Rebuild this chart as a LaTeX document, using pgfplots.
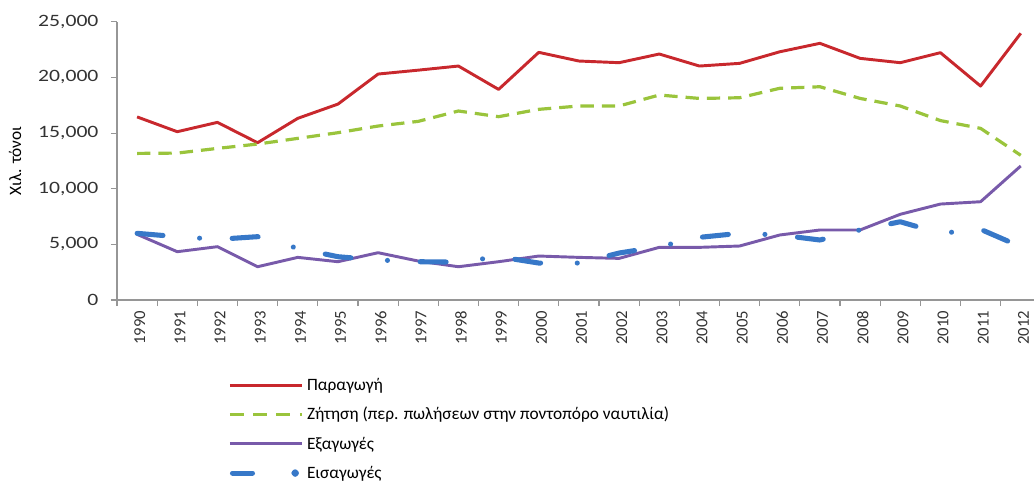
\documentclass[border=0pt]{standalone}
\usepackage{pgfplots}
\pgfplotsset{compat=1.18}
\usepackage{fontspec}
\setmainfont{Carlito}
\definecolor{cred}{RGB}{200,40,45}
\definecolor{cgreen}{RGB}{154,196,60}
\definecolor{cpurple}{RGB}{120,90,170}
\definecolor{cblue}{RGB}{55,120,200}
\definecolor{caxis}{RGB}{150,150,150}
\pgfplotsset{
  lineleg/.style={legend image code/.code={\draw[##1] (0pt,0pt) -- (54pt,0pt);}},
  dashleg/.style={legend image code/.code={\draw[##1, dash pattern=on 10.5pt off 7pt] (0pt,0pt) -- (54pt,0pt);}},
  blueleg/.style={legend image code/.code={\draw[##1, solid] (2pt,0pt) -- (17pt,0pt); \fill[cblue] (49pt,0pt) circle (0.95pt); \path (54pt,0pt);}},
}
\begin{document}
\begin{tikzpicture}
\begin{axis}[
  scale only axis, width=687.75pt, height=208.7pt,
  at={(87.75pt,142.5pt)}, anchor=south west,
  xmin=-0.5, xmax=22.33, ymin=0, ymax=25000,
  axis x line=bottom, axis y line=left,
  axis line style={-, draw=caxis, line width=0.9pt},
  every tick/.style={draw=caxis, line width=0.8pt},
  tick align=outside,
  ytick={0,5000,10000,15000,20000,25000},
  scaled y ticks=false,
  /pgf/number format/assume math mode=true,
  /pgf/number format/fixed,
  /pgf/number format/1000 sep={,},
  yticklabel style={font=\fontsize{13}{15}\selectfont, xscale=1.25, xshift=-4pt, text=black!80},
  major tick length=4.5pt,
  xtick={0,...,22},
  xticklabel={\pgfmathtruncatemacro\yr{1990+\tick}\yr},
  xticklabel style={rotate=90, anchor=east, font=\fontsize{12.5}{14}\selectfont, text=black!80, yshift=-2pt},
  major x tick style={draw=none},
  minor xtick={-0.5,0.5,...,21.5},
  minor tick length=4.5pt,
  ylabel={Χιλ. τόνοι},
  ylabel style={at={(axis description cs:-0.1045,0.5)}, anchor=base, font=\fontsize{13}{15}\selectfont},
  legend style={at={(axis description cs:0.121,-0.27)}, anchor=north west, draw=none, fill=none,
    font=\fontsize{13}{15}\selectfont, row sep=7.2pt, inner sep=0pt},
  legend cell align=left,
  no markers,
]
\addplot[cred, line width=2.2pt, line join=round, lineleg]
 coordinates {(0,16450) (1,15120) (2,15960) (3,14130) (4,16320) (5,17600) (6,20300) (7,20650) (8,21020) (9,18920) (10,22250) (11,21470) (12,21320) (13,22100) (14,21020) (15,21260) (16,22300) (17,23060) (18,21710) (19,21320) (20,22220) (21,19220) (22,23960)};
\addlegendentry{Παραγωγή}
\addplot[cgreen, line width=2.4pt, dash pattern=on 10pt off 6pt, dashleg]
 coordinates {(0,13170) (1,13200) (2,13620) (3,14010) (4,14520) (5,15030) (6,15630) (7,16050) (8,16980) (9,16470) (10,17130) (11,17430) (12,17430) (13,18415) (14,18110) (15,18170) (16,19020) (17,19160) (18,18110) (19,17430) (20,16120) (21,15420) (22,13000)};
\addlegendentry{Ζήτηση (περ. πωλήσεων στην ποντοπόρο ναυτιλία)}
\addplot[cpurple, line width=2.2pt, line join=round, lineleg]
 coordinates {(0,5900) (1,4340) (2,4790) (3,2990) (4,3830) (5,3440) (6,4250) (7,3500) (8,2990) (9,3440) (10,3950) (11,3830) (12,3740) (13,4730) (14,4730) (15,4850) (16,5840) (17,6290) (18,6290) (19,7700) (20,8620) (21,8830) (22,12040)};
\addlegendentry{Εξαγωγές}
\addplot[cblue, line width=3.8pt, line cap=round, line join=round,
  dash pattern=on 19.5pt off 27.5pt on 0.01pt off 24.5pt, blueleg]
 coordinates {(0,5990) (1,5690) (2,5450) (3,5690) (4,4640) (5,3890) (6,3590) (7,3440) (8,3400) (9,3890) (10,3320) (11,3320) (12,4220) (13,4790) (14,5630) (15,5990) (16,5840) (17,5390) (18,6300) (19,7030) (20,5990) (21,6350) (22,4790)};
\addlegendentry{Εισαγωγές}
\end{axis}
\pgfresetboundingbox
\path[use as bounding box] (0,0) rectangle (775.5pt,367.5pt);
\end{tikzpicture}
\end{document}
